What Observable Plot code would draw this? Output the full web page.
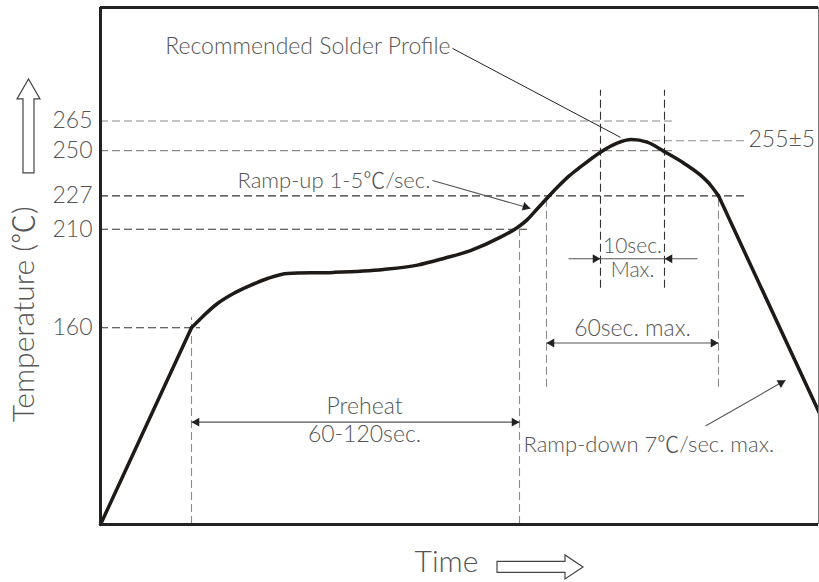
<!DOCTYPE html>
<html><head><meta charset="utf-8">
<script src="https://cdn.jsdelivr.net/npm/d3@7"></script>
<script src="https://cdn.jsdelivr.net/npm/@observablehq/plot@0.6"></script>
<style>
body{margin:0;background:#fff;}
#chart{width:819px;height:582px;}
</style></head><body><div id="chart"></div>
<script>
// ---- data (time in arbitrary units, temperature in °C) ----
const yTicks = [160, 210, 227, 250, 265];

const rampTime = [0, 45.5];
const rampTemp = [60, 160];
const soakTime = [45.5, 50, 58.5, 66.5, 75, 83.5, 93.5, 116.5, 141.5, 158.5, 172, 185, 200, 208.3, 213.3, 218.3, 223, 228.3, 234.2, 240, 250, 258.3, 265.5, 273.3, 281.7, 291.7, 300, 305, 309];
const soakTemp = [160, 164.6, 172.3, 177.4, 181.5, 185, 187.6, 188.1, 189.6, 191.8, 195.3, 199.2, 206, 210.8, 214.8, 220.3, 225.5, 231.2, 237, 241.7, 249.2, 253.8, 255.6, 254.3, 249.6, 243.6, 237.5, 232.5, 227];
const coolTime = [309, 359.5];
const coolTemp = [227, 116.5];

// horizontal dashed reference lines: level and where they end
const refTemp = [265, 250, 227, 210, 160];
const refEnd = [286.5, 286.5, 323.5, 213.5, 50];
const peakTemp = 255, peakLineFrom = 270, peakLineTo = 322.5;

// vertical dashed reference lines
const vTime = [45.5, 209.5, 223, 250, 282, 309];
const vTop = [165.2, 210, 227, 280.6, 280.6, 227];
const vBottom = [60, 60, 129.7, 180, 180, 129.7];

// dimension arrows
const spanFrom = [45.5, 223];
const spanTo = [209.5, 309];
const spanTemp = [112, 152.2];
const winFrom = [234, 298.5];   // outer ends of the 10sec arrows
const winTo = [250, 282];
const winTemp = 195;

// pointer arrows (Ramp-up, Ramp-down)
const ptrFromTime = [166, 302.5];
const ptrFromTemp = [234.8, 110];
const ptrToTime = [215, 342.5];
const ptrToTemp = [220.6, 133.3];
// leader line from the title label
const leaderTime = [176, 260];
const leaderTemp = [301.9, 256.7];

// labels
const labelText = ["Recommended Solder Profile", "Ramp-up 1-5℃/sec.", "255±5", "10sec.", "Max.", "60sec. max.", "Preheat", "60-120sec.", "Ramp-down 7℃/sec. max."];
const labelTime = [175, 68.5, 324, 266, 266, 266, 132, 132, 211.5];
const labelTemp = [302.7, 234.6, 255.4, 201.3, 189.1, 159.4, 120, 105.8, 100.2];
const labelAlign = ["end", "start", "start", "middle", "middle", "middle", "middle", "middle", "start"];

// ---- layout ----
const W = 819, H = 582;
const xDomain = [0, 359], yDomain = [60, 322.7];
const mL = 100, mR = 1, mT = 7, mB = 58;
const kx = (W - mL - mR) / (xDomain[1] - xDomain[0]);
const ky = (H - mT - mB) / (yDomain[1] - yDomain[0]);

const toRows = (xs, ys) => xs.map((x, i) => ({t: x, v: ys[i]}));
const ramp = toRows(rampTime, rampTemp);
const soak = toRows(soakTime, soakTemp);
const cool = toRows(coolTime, coolTemp);

const refs = refTemp.map((v, i) => ({v, end: refEnd[i]}));
const verts = vTime.map((t, i) => ({t, top: vTop[i], bottom: vBottom[i]}));

// arrow segments & heads
const segs = [];
spanFrom.forEach((a, i) => segs.push({t1: a, v1: spanTemp[i], t2: spanTo[i], v2: spanTemp[i], headStart: true, headEnd: true}));
winFrom.forEach((a, i) => segs.push({t1: a, v1: winTemp, t2: winTo[i], v2: winTemp, headStart: false, headEnd: true}));
ptrFromTime.forEach((a, i) => segs.push({t1: a, v1: ptrFromTemp[i], t2: ptrToTime[i], v2: ptrToTemp[i], headStart: false, headEnd: true}));
const winLine = [{t1: winTo[0], t2: winTo[1], v: winTemp}];

const tipDist = 5.2;
const heads = [];
function addHead(tTip, vTip, tFrom, vFrom) {
  const dx = (tTip - tFrom) * kx, dy = -(vTip - vFrom) * ky;
  const ang = Math.atan2(dy, dx);
  heads.push({
    t: tTip - Math.cos(ang) * tipDist / kx,
    v: vTip + Math.sin(ang) * tipDist / ky,
    rot: ang * 180 / Math.PI + 90
  });
}
segs.forEach(s => {
  if (s.headEnd) addHead(s.t2, s.v2, s.t1, s.v1);
  if (s.headStart) addHead(s.t1, s.v1, s.t2, s.v2);
});

const labels = labelText.map((text, i) => ({text, t: labelTime[i], v: labelTemp[i], a: labelAlign[i]}));
const FONT = "Lato, 'Noto Sans CJK SC', 'Liberation Sans', sans-serif";
const TXT = "#555";
const dash = "8,4";
const FS = 23;
const sizeOf = d => (d.text.startsWith("10sec") || d.text === "Max.") ? 21 : d.text.startsWith("Ramp") ? 22 : FS;

const textMarks = ["start", "middle", "end"].map(a =>
  Plot.text(labels.filter(d => d.a === a), {x: "t", y: "v", text: "text", textAnchor: a, lineAnchor: "middle", fontSize: sizeOf, fill: TXT, fontWeight: 300})
);

const chart = Plot.plot({
  width: W, height: H,
  marginLeft: mL, marginRight: mR, marginTop: mT, marginBottom: mB,
  x: {domain: xDomain, axis: null},
  y: {domain: yDomain, axis: null},
  style: {fontFamily: FONT, fontSize: FS + "px", color: TXT, background: "#fff", overflow: "visible"},
  marks: [
    // dashed references
    Plot.ruleY(refs, {y: "v", x1: xDomain[0], x2: "end", stroke: d => d.v >= 250 ? "#8a8a8a" : "#333", strokeDasharray: dash, strokeWidth: 1.1}),
    Plot.ruleY([peakTemp], {x1: peakLineFrom, x2: peakLineTo, stroke: "#8a8a8a", strokeDasharray: dash, strokeWidth: 1.1}),
    Plot.ruleX(verts, {x: "t", y1: "bottom", y2: "top", stroke: d => (d.t === 250 || d.t === 282) ? "#333" : "#8a8a8a", strokeDasharray: dash, strokeWidth: 1.1}),
    // axis tick labels
    Plot.axisY({ticks: yTicks, tickSize: 0, tickPadding: 8, label: null, fontSize: FS, fill: TXT, fontWeight: 300}),
    // profile
    Plot.line(ramp, {x: "t", y: "v", stroke: "#1e1a18", strokeWidth: 3.5}),
    Plot.line(soak, {x: "t", y: "v", stroke: "#1e1a18", strokeWidth: 3.5, curve: "monotone-x"}),
    Plot.line(cool, {x: "t", y: "v", stroke: "#1e1a18", strokeWidth: 3.5}),
    // annotation arrows
    Plot.link(segs, {x1: "t1", y1: "v1", x2: "t2", y2: "v2", stroke: "#555", strokeWidth: 1.1}),
    Plot.link(winLine, {x1: "t1", x2: "t2", y1: "v", y2: "v", stroke: "#555", strokeWidth: 1.1}),
    Plot.link([{}], {x1: () => leaderTime[0], y1: () => leaderTemp[0], x2: () => leaderTime[1], y2: () => leaderTemp[1], stroke: "#222", strokeWidth: 1}),
    Plot.dot(heads, {x: "t", y: "v", symbol: "triangle", rotate: "rot", r: 3.3, fill: "#222", stroke: "none"}),
    ...textMarks,
    // axis titles
    Plot.text(["Temperature (℃)"], {x: () => -38, y: () => 166.8, text: d => d, rotate: -90, fontSize: 30, fill: TXT, fontWeight: 300, lineAnchor: "middle"}),
    Plot.text(["Time"], {x: () => 173, y: () => 40.5, text: d => d, fontSize: 30, fill: TXT, fontWeight: 300, lineAnchor: "middle"}),
    // frame
    Plot.ruleX([xDomain[1]], {stroke: "#777", strokeWidth: 1}),
    Plot.ruleY([yDomain[0]], {stroke: "#222", strokeWidth: 3}),
    Plot.ruleY([yDomain[1]], {stroke: "#222", strokeWidth: 3}),
    Plot.ruleX([xDomain[0]], {stroke: "#222", strokeWidth: 3})
  ]
});

// decorative hollow arrows next to the axis titles
const svg = d3.select(chart);
const sx = chart.scale("x"), sy = chart.scale("y");
const upX = sx.apply(-35.75), upY1 = sy.apply(238.4), upY2 = sy.apply(276), upHead = sy.apply(286.1);
svg.append("path")
  .attr("d", `M${upX-5.5},${upY1}L${upX-5.5},${upY2}L${upX-11.5},${upY2}L${upX},${upHead}L${upX+11.5},${upY2}L${upX+5.5},${upY2}L${upX+5.5},${upY1}Z`)
  .attr("fill", "#fff").attr("stroke", "#444").attr("stroke-width", 1.2);
const tX1 = sx.apply(198.5), tX2 = sx.apply(232.5), tX3 = sx.apply(241.5), tY = sy.apply(38.2);
svg.append("path")
  .attr("d", `M${tX1},${tY-5.5}L${tX2},${tY-5.5}L${tX2},${tY-12}L${tX3},${tY}L${tX2},${tY+12}L${tX2},${tY+5.5}L${tX1},${tY+5.5}Z`)
  .attr("fill", "#fff").attr("stroke", "#444").attr("stroke-width", 1.2);

document.getElementById("chart").appendChild(chart);
</script></body></html>
